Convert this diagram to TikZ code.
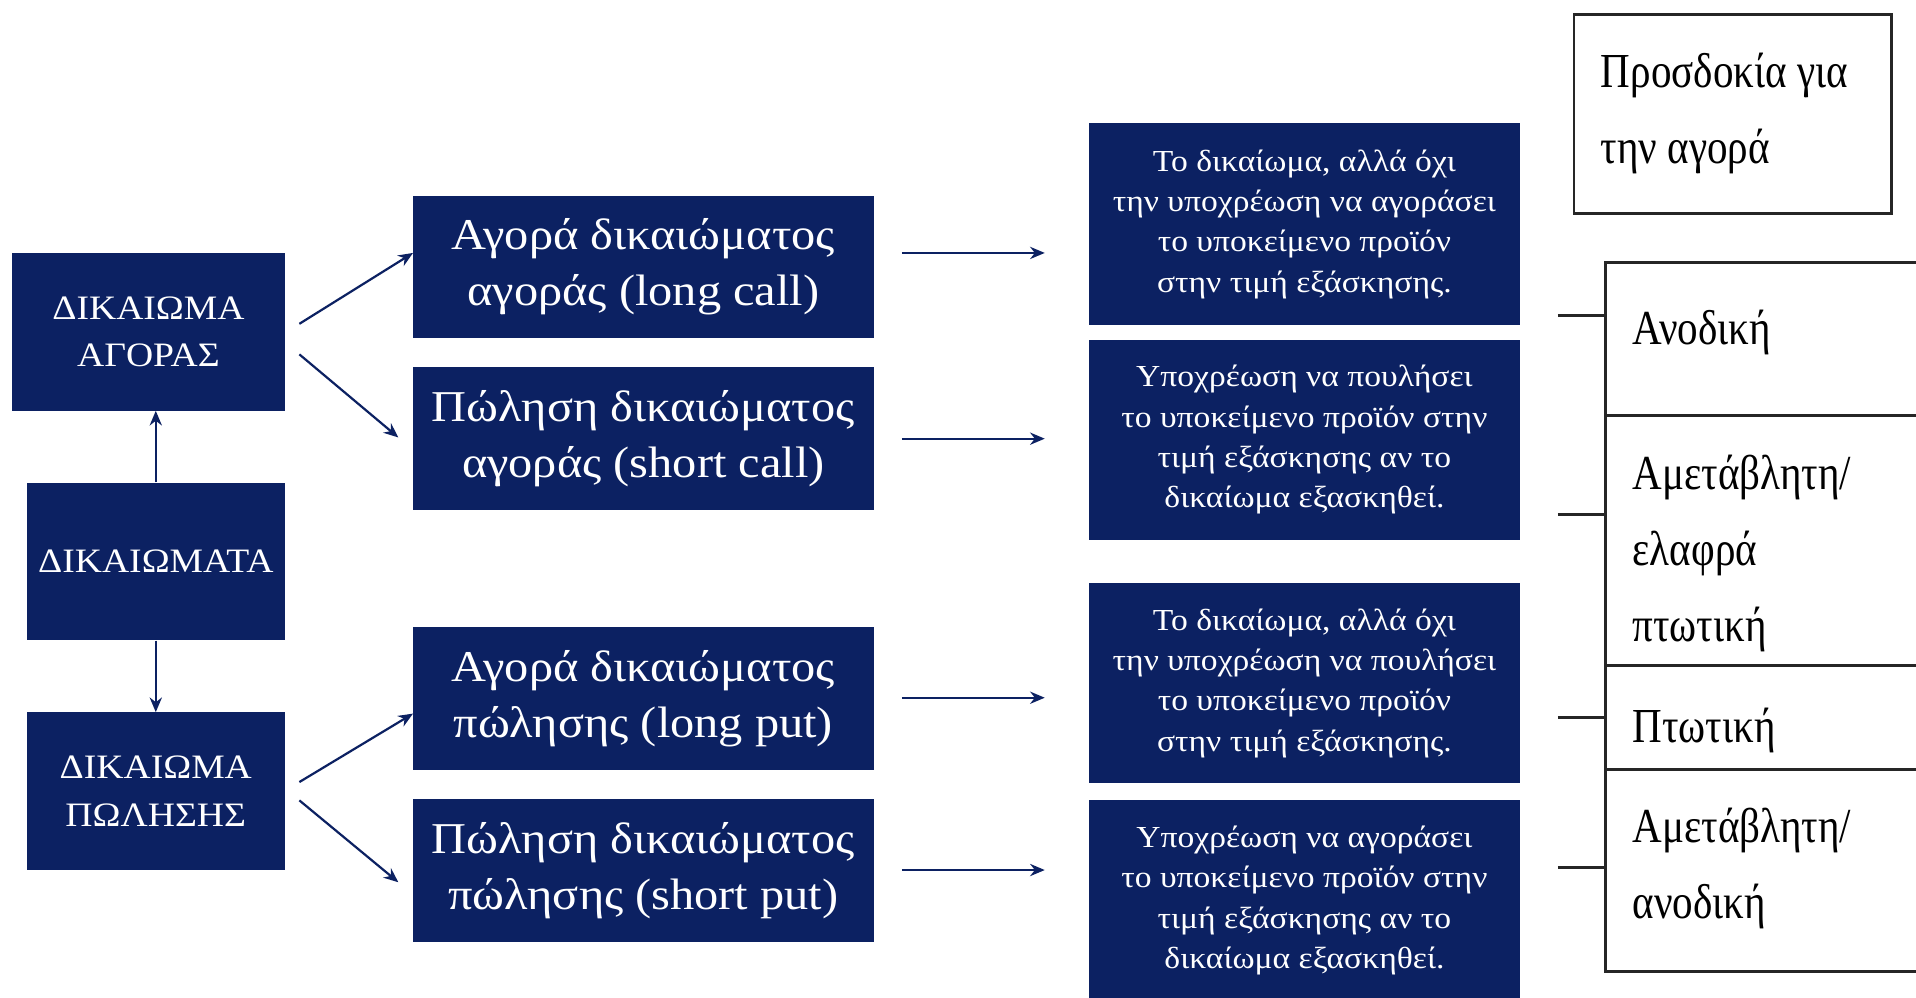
\documentclass[tikz,border=0pt]{standalone}
\usepackage{fontspec}
\setmainfont{Liberation Serif}
\newfontfamily\widefam[FakeStretch=1.1]{Liberation Serif}
\usetikzlibrary{arrows.meta}
\definecolor{navy}{RGB}{12,33,98}
\begin{document}
\begin{tikzpicture}[x=1pt,y=-1pt,
  bluebox/.style={fill=navy,text=white,inner sep=0pt,align=center},
  leftbox/.style={bluebox,minimum width=211pt,minimum height=129pt,font=\widefam\fontsize{28}{39}\selectfont},
  midbox/.style={bluebox,minimum width=377pt,minimum height=117pt,font=\widefam\fontsize{36}{46}\selectfont},
  descbox/.style={bluebox,minimum width=353pt,minimum height=164pt,font=\widefam\fontsize{25}{33}\selectfont},
  arr/.style={draw=navy,line width=1.8pt,-{Stealth[length=12pt,width=10pt]}},
  tline/.style={draw=black!85,line width=2.2pt},
  ttext/.style={anchor=west,inner sep=0pt,align=left,font=\fontsize{40}{62}\selectfont,xscale=0.84}
]
\useasboundingbox (0,0) rectangle (1568,816);
\fill[white] (0,0) rectangle (1568,816);

% left column
\node[leftbox,minimum width=223pt] (ag) at (121.5,271.5) {ΔΙΚΑΙΩΜΑ\\ΑΓΟΡΑΣ};
\node[leftbox] (dik) at (127.5,459.5) {ΔΙΚΑΙΩΜΑΤΑ};
\node[leftbox] (pol) at (127.5,647.5) {ΔΙΚΑΙΩΜΑ\\ΠΩΛΗΣΗΣ};
\draw[arr] (dik.north) -- (dik.north |- ag.south);
\draw[arr] (dik.south) -- (pol.north);

% middle column
\node[midbox] (m1) at (526.5,218.5) {Αγορά δικαιώματος\\αγοράς (long call)};
\node[midbox] (m2) at (526.5,359) {Πώληση δικαιώματος\\αγοράς (short call)};
\node[midbox] (m3) at (526.5,571.5) {Αγορά δικαιώματος\\πώλησης (long put)};
\node[midbox] (m4) at (526.5,712.5) {Πώληση δικαιώματος\\πώλησης (short put)};

\coordinate (a1s) at (245,265); \coordinate (a1e) at (338,207);
\coordinate (a2s) at (245,290); \coordinate (a2e) at (326,358);
\coordinate (a3s) at (245,640); \coordinate (a3e) at (338,584);
\coordinate (a4s) at (245,655); \coordinate (a4e) at (326,722);
\draw[arr] (a1s) -- (a1e);
\draw[arr] (a2s) -- (a2e);
\draw[arr] (a3s) -- (a3e);
\draw[arr] (a4s) -- (a4e);

% description column
\node[descbox,minimum height=165pt] (d1) at (1067.5,183.5) {Το δικαίωμα, αλλά όχι\\την υποχρέωση να αγοράσει\\το υποκείμενο προϊόν\\στην τιμή εξάσκησης.};
\node[descbox] (d2) at (1067.5,360) {Υποχρέωση να πουλήσει\\το υποκείμενο προϊόν στην\\τιμή εξάσκησης αν το\\δικαίωμα εξασκηθεί.};
\node[descbox] (d3) at (1067.5,559) {Το δικαίωμα, αλλά όχι\\την υποχρέωση να πουλήσει\\το υποκείμενο προϊόν\\στην τιμή εξάσκησης.};
\node[descbox] (d4) at (1067.5,737) {Υποχρέωση να αγοράσει\\το υποκείμενο προϊόν στην\\τιμή εξάσκησης αν το\\δικαίωμα εξασκηθεί.};

\coordinate (h1s) at (738,207); \coordinate (h1e) at (855,207);
\coordinate (h2s) at (738,359); \coordinate (h2e) at (855,359);
\coordinate (h3s) at (738,571); \coordinate (h3e) at (855,571);
\coordinate (h4s) at (738,712); \coordinate (h4e) at (855,712);
\draw[arr] (h1s) -- (h1e);
\draw[arr] (h2s) -- (h2e);
\draw[arr] (h3s) -- (h3e);
\draw[arr] (h4s) -- (h4e);

% right column
\node[tline,minimum width=260pt,minimum height=163pt,inner sep=0pt] (hdr) at (1418,93.5) {};
\node[ttext] (hdrt) at (1310,93) {Προσδοκία για\\την αγορά};

\node[inner sep=0pt,minimum width=254pt,minimum height=125pt] (r1) at (1441,277.5) {};
\node[inner sep=0pt,minimum width=254pt,minimum height=205pt] (r2) at (1441,442.5) {};
\node[inner sep=0pt,minimum width=254pt,minimum height=85pt] (r3) at (1441,587.5) {};
\node[inner sep=0pt,minimum width=254pt,minimum height=165pt] (r4) at (1441,712.5) {};
\draw[tline] (r1.north east) -- (r1.north west) -- (r4.south west) -- (r4.south east);
\draw[tline] (r2.north west) -- (r2.north east);
\draw[tline] (r3.north west) -- (r3.north east);
\draw[tline] (r4.north west) -- (r4.north east);

\node[ttext] (t1) at (1336,272) {Ανοδική};
\node[ttext] (t2) at (1336,453) {Αμετάβλητη/\\ελαφρά\\πτωτική};
\node[ttext] (t3) at (1336,598) {Πτωτική};
\node[ttext] (t4) at (1336,711) {Αμετάβλητη/\\ανοδική};

\coordinate (s1) at (1275,258);
\coordinate (s2) at (1275,421);
\coordinate (s3) at (1275,587);
\coordinate (s4) at (1275,710);
\draw[tline] (s1) -- (s1 -| r1.west);
\draw[tline] (s2) -- (s2 -| r2.west);
\draw[tline] (s3) -- (s3 -| r3.west);
\draw[tline] (s4) -- (s4 -| r4.west);
\end{tikzpicture}
\end{document}
